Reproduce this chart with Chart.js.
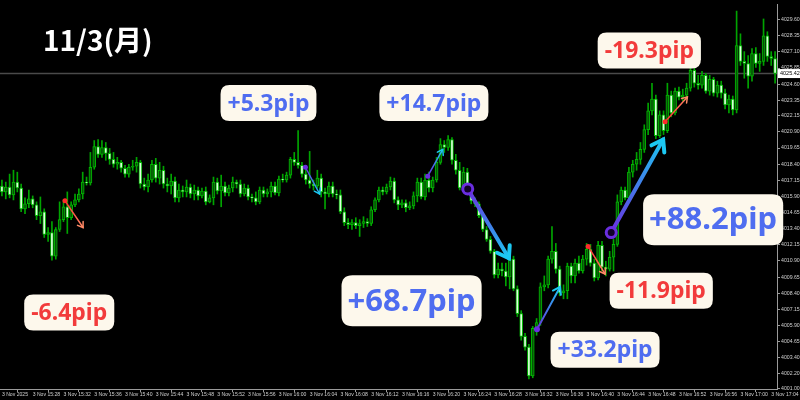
<!DOCTYPE html>
<html>
<head>
<meta charset="utf-8">
<script src="https://cdn.jsdelivr.net/npm/chart.js@4.4.0/dist/chart.umd.min.js"></script>
<style>
html,body{margin:0;padding:0;background:#000;}
#wrap{width:800px;height:400px;position:relative;}
</style>
</head>
<body>
<div id="wrap"><canvas id="chart"></canvas></div>
<script>
// 30 second candles, one time label every 8 bars
var tickLabels = ['3 Nov 2025','3 Nov 15:28','3 Nov 15:32','3 Nov 15:36','3 Nov 15:40','3 Nov 15:44','3 Nov 15:48',
  '3 Nov 15:52','3 Nov 15:56','3 Nov 16:00','3 Nov 16:04','3 Nov 16:08','3 Nov 16:12','3 Nov 16:16','3 Nov 16:20',
  '3 Nov 16:24','3 Nov 16:28','3 Nov 16:32','3 Nov 16:36','3 Nov 16:40','3 Nov 16:44','3 Nov 16:48','3 Nov 16:52',
  '3 Nov 16:56','3 Nov 17:00','3 Nov 17:04'];
var barsPerLabel = 8;

var priceTicks = [4001.00, 4002.20, 4003.40, 4004.65, 4005.90, 4007.15, 4008.40, 4009.65, 4010.90, 4012.15,
  4013.40, 4014.65, 4015.90, 4017.15, 4018.40, 4019.65, 4020.90, 4022.15, 4023.35, 4024.60, 4025.85,
  4027.10, 4028.35, 4029.60];
var currentPrice = 4025.42;

var open = [
  4016.71,4016.25,4016.63,4016.02,4017.01,4016.55,4014.94,4015.33,4015.71,4015.25,
  4014.41,4014.71,4012.95,4013.10,4011.27,4013.34,4014.10,4015.10,4014.25,4015.25,
  4015.63,4016.09,4017.01,4016.94,4018.16,4019.77,4019.16,4019.69,4019.23,4018.77,
  4018.39,4018.54,4018.08,4017.63,4018.16,4018.24,4018.54,4016.86,4016.63,4017.17,
  4018.39,4017.32,4017.93,4016.86,4016.71,4017.09,4015.79,4016.40,4016.25,4016.63,
  4016.09,4016.40,4015.94,4016.32,4015.48,4015.79,4017.01,4016.32,4016.71,4016.17,
  4016.55,4017.01,4016.86,4016.09,4016.55,4015.86,4015.79,4015.48,4016.40,4016.09,
  4016.25,4016.71,4016.17,4017.24,4017.17,4017.55,4018.77,4018.54,4018.31,4017.63,
  4017.17,4016.86,4016.71,4017.32,4016.25,4016.09,4016.71,4016.09,4016.02,4014.71,
  4013.87,4013.72,4013.87,4013.64,4013.80,4013.95,4013.80,4014.87,4015.63,4016.40,
  4016.25,4016.63,4017.09,4015.63,4015.25,4015.40,4015.02,4015.17,4015.94,4017.01,
  4015.86,4017.17,4016.55,4017.17,4018.54,4019.92,4019.69,4020.31,4018.70,4017.93,
  4016.55,4017.78,4016.48,4015.56,4015.33,4014.41,4013.34,4012.57,4011.65,4009.81,
  4010.27,4010.12,4009.66,4011.04,4008.74,4006.82,4005.06,4004.22,4002.00,4005.68,
  4006.13,4008.89,4009.05,4011.04,4011.65,4010.27,4008.43,4008.59,4010.50,4009.74,
  4010.73,4010.12,4011.04,4011.80,4010.73,4009.58,4012.11,4010.42,4010.27,4011.19,
  4012.19,4015.48,4016.40,4015.79,4017.78,4018.39,4018.77,4019.54,4021.07,4022.53,
  4023.45,4020.61,4022.22,4020.99,4023.75,4022.37,4024.06,4023.60,4023.75,4024.29,
  4025.67,4024.67,4024.52,4025.29,4024.06,4024.98,4023.91,4024.52,4023.91,4022.99,
  4023.45,4022.60,4027.58,4026.36,4026.20,4025.21,4026.97,4026.20,4026.36,4028.35,
  4026.74,4026.59];
var high = [
  4017.16,4017.01,4017.63,4017.93,4017.78,4016.86,4015.79,4016.40,4015.94,4015.48,
  4015.86,4014.94,4013.49,4013.95,4013.49,4015.48,4015.63,4016.25,4015.48,4016.09,
  4016.48,4017.78,4017.40,4019.31,4020.23,4020.31,4020.23,4020.08,4019.62,4019.31,
  4018.93,4018.70,4018.31,4018.39,4018.70,4018.93,4018.70,4017.32,4017.63,4018.70,
  4018.85,4018.54,4018.24,4017.32,4017.63,4017.40,4016.86,4016.71,4017.17,4016.86,
  4016.78,4016.63,4016.55,4016.63,4016.02,4017.40,4017.32,4017.55,4017.01,4016.78,
  4017.40,4017.17,4017.17,4016.86,4016.78,4016.09,4016.25,4016.63,4016.63,4016.48,
  4017.01,4017.01,4017.47,4017.63,4017.78,4018.93,4019.31,4021.00,4018.54,4018.16,
  4019.39,4017.17,4017.93,4017.63,4016.55,4017.01,4017.01,4016.40,4016.40,4015.02,
  4014.18,4014.10,4014.25,4014.10,4014.33,4014.18,4015.10,4015.79,4016.63,4016.63,
  4016.86,4017.40,4017.32,4015.86,4015.63,4015.63,4015.48,4016.25,4017.32,4017.32,
  4017.63,4017.78,4017.40,4018.93,4020.38,4020.23,4020.61,4020.46,4019.16,4018.54,
  4018.16,4018.08,4016.63,4015.79,4015.48,4014.56,4013.57,4012.80,4011.80,4010.73,
  4010.73,4010.73,4011.27,4011.27,4008.97,4007.05,4005.29,4004.45,4005.83,4006.44,
  4009.20,4009.74,4011.27,4013.57,4012.26,4010.50,4009.05,4010.73,4010.73,4011.04,
  4011.27,4011.34,4012.26,4012.19,4011.04,4012.42,4012.42,4010.88,4011.65,4012.57,
  4016.02,4016.63,4016.63,4018.16,4018.70,4019.31,4020.08,4021.45,4023.14,4024.67,
  4023.75,4022.53,4022.53,4024.67,4024.06,4024.29,4024.37,4024.21,4024.67,4025.90,
  4025.90,4025.29,4025.59,4025.44,4025.29,4025.13,4024.83,4024.83,4024.21,4023.75,
  4023.68,4030.26,4028.50,4027.12,4026.82,4027.35,4027.43,4026.97,4029.65,4028.66,
  4027.12,4027.12];
var low = [
  4015.94,4015.71,4015.79,4015.63,4016.25,4014.71,4014.56,4015.02,4015.02,4014.10,
  4013.80,4012.72,4012.42,4010.96,4011.04,4013.18,4013.95,4013.03,4014.10,4015.10,
  4015.48,4015.71,4016.78,4016.78,4018.01,4018.93,4018.93,4018.70,4018.39,4018.16,
  4018.01,4017.78,4017.40,4017.40,4017.93,4017.78,4016.55,4016.40,4016.25,4017.01,
  4017.01,4016.86,4016.55,4016.25,4016.09,4015.48,4015.48,4015.86,4015.86,4015.79,
  4015.63,4015.63,4015.79,4015.25,4015.40,4015.25,4016.09,4015.10,4015.94,4015.94,
  4016.25,4016.55,4015.86,4015.94,4015.63,4015.48,4015.25,4015.33,4015.86,4015.86,
  4015.86,4016.02,4015.94,4017.01,4017.01,4017.32,4018.31,4018.08,4017.40,4016.86,
  4016.55,4016.40,4016.55,4015.86,4014.94,4015.86,4015.86,4015.71,4014.56,4013.64,
  4013.41,4013.34,4013.41,4012.80,4013.49,4013.57,4013.64,4014.71,4015.48,4016.02,
  4016.09,4016.40,4015.40,4014.87,4015.02,4014.71,4014.87,4014.94,4015.48,4015.71,
  4015.63,4016.25,4016.25,4017.01,4018.39,4019.31,4019.46,4018.39,4017.63,4016.40,
  4016.40,4016.25,4015.33,4015.10,4014.25,4013.18,4012.42,4011.50,4009.58,4009.58,
  4009.74,4008.97,4008.74,4008.59,4006.59,4004.76,4003.99,4001.77,4001.85,4005.14,
  4005.91,4008.59,4008.82,4010.73,4009.96,4008.20,4007.97,4007.97,4009.20,4009.20,
  4009.96,4009.96,4010.58,4010.50,4009.35,4009.43,4010.12,4009.74,4010.12,4010.12,
  4012.03,4015.25,4015.63,4015.63,4017.40,4017.93,4018.39,4019.31,4020.69,4022.22,
  4020.38,4020.46,4020.69,4020.84,4022.07,4022.22,4023.37,4023.29,4023.45,4024.06,
  4024.37,4024.21,4024.29,4023.91,4023.75,4023.68,4023.60,4023.52,4022.68,4022.37,
  4022.22,4022.37,4026.05,4025.06,4024.29,4024.83,4025.90,4025.59,4026.05,4026.36,
  4026.05,4024.67];
var close = [
  4016.25,4016.63,4016.02,4017.01,4016.55,4014.94,4015.33,4015.71,4015.25,4014.41,
  4014.71,4012.95,4013.10,4011.27,4013.34,4014.10,4015.10,4014.25,4015.25,4015.63,
  4016.09,4017.01,4016.94,4018.16,4019.77,4019.16,4019.69,4019.23,4018.77,4018.39,
  4018.54,4018.08,4017.63,4018.16,4018.24,4018.54,4016.86,4016.63,4017.17,4018.39,
  4017.32,4017.93,4016.86,4016.71,4017.09,4015.79,4016.40,4016.25,4016.63,4016.09,
  4016.40,4015.94,4016.32,4015.48,4015.79,4017.01,4016.32,4016.71,4016.17,4016.55,
  4017.01,4016.86,4016.09,4016.55,4015.86,4015.79,4015.48,4016.40,4016.09,4016.25,
  4016.71,4016.17,4017.24,4017.17,4017.55,4018.77,4018.54,4018.31,4017.63,4017.17,
  4016.86,4016.71,4017.32,4016.25,4016.09,4016.71,4016.09,4016.02,4014.71,4013.87,
  4013.72,4013.87,4013.64,4013.80,4013.95,4013.80,4014.87,4015.63,4016.40,4016.25,
  4016.63,4017.09,4015.63,4015.25,4015.40,4015.02,4015.17,4015.94,4017.01,4015.86,
  4017.17,4016.55,4017.17,4018.54,4019.92,4019.69,4020.31,4018.70,4017.93,4016.55,
  4017.78,4016.48,4015.56,4015.33,4014.41,4013.34,4012.57,4011.65,4009.81,4010.27,
  4010.12,4009.66,4011.04,4008.74,4006.82,4005.06,4004.22,4002.00,4005.68,4006.13,
  4008.89,4009.05,4011.04,4011.65,4010.27,4008.43,4008.59,4010.50,4009.74,4010.73,
  4010.12,4011.04,4011.80,4010.73,4009.58,4012.11,4010.42,4010.27,4011.19,4012.19,
  4015.48,4016.40,4015.79,4017.78,4018.39,4018.77,4019.54,4021.07,4022.53,4023.45,
  4020.61,4022.22,4020.99,4023.75,4022.37,4024.06,4023.60,4023.75,4024.29,4025.67,
  4024.67,4024.52,4025.29,4024.06,4024.98,4023.91,4024.52,4023.91,4022.99,4023.45,
  4022.60,4027.58,4026.36,4026.20,4025.21,4026.97,4026.20,4026.36,4028.35,4026.74,
  4026.59,4025.44];

// annotation arrows: bar index / price of start and tip
var arrowStartIdx   = [16.4, 78.9, 110.7, 121.1, 139.1, 152.4, 158.4, 172.4];
var arrowStartPrice = [4015.56, 4018.16, 4017.47, 4016.48, 4005.60, 4012.03, 4013.10, 4021.68];
var arrowEndIdx     = [21.1, 82.6, 114.6, 131.8, 145.1, 156.8, 171.9, 178.2];
var arrowEndPrice   = [4013.49, 4016.09, 4019.54, 4011.11, 4008.89, 4009.89, 4020.31, 4023.60];
var arrowSign       = ['-', '+', '+', '+', '+', '-', '+', '-'];
var arrowSize       = ['s', 's', 's', 'b', 'm', 's', 'b', 's'];

// pip labels, centred on bar index / price
var labelText  = ['-6.4pip', '+5.3pip', '+14.7pip', '+68.7pip', '+33.2pip', '-11.9pip', '+88.2pip', '-19.3pip'];
var labelIdx   = [17.5, 69.3, 112.3, 106.5, 156.8, 171.4, 184.9, 168.3];
var labelPrice = [4006.90, 4023.14, 4023.14, 4007.82, 4004.03, 4008.59, 4014.10, 4027.20];
var labelBig   = [false, false, false, true, false, false, true, false];

var titleText = '11/3(月)';

var categories = open.map(function(o, i) {
  return i % barsPerLabel === 0 ? tickLabels[i / barsPerLabel] : '';
});
var wickData = low.map(function(l, i) { return [l, high[i]]; });
var bodyData = open.map(function(o, i) {
  var a = Math.min(o, close[i]), b = Math.max(o, close[i]);
  if (b - a < 0.06) { a -= 0.03; b += 0.03; }
  return [a, b];
});
var bodyColors = open.map(function(o, i) { return close[i] >= o ? '#075207' : '#dcffdc'; });

var styleSize = {
  s: {w: 1.5, head: 6, dot: 2.5, ring: false},
  m: {w: 2, head: 8, dot: 3, ring: false},
  b: {w: 4, head: 13, dot: 5, ring: true}
};

function roundRect(ctx, x, y, w, h, r) {
  ctx.beginPath();
  ctx.moveTo(x + r, y);
  ctx.lineTo(x + w - r, y);
  ctx.quadraticCurveTo(x + w, y, x + w, y + r);
  ctx.lineTo(x + w, y + h - r);
  ctx.quadraticCurveTo(x + w, y + h, x + w - r, y + h);
  ctx.lineTo(x + r, y + h);
  ctx.quadraticCurveTo(x, y + h, x, y + h - r);
  ctx.lineTo(x, y + r);
  ctx.quadraticCurveTo(x, y, x + r, y);
  ctx.closePath();
}

var overlay = {
  id: 'overlay',
  beforeDatasetsDraw: function(chart) {
    var ctx = chart.ctx, area = chart.chartArea;
    var y = chart.scales.y.getPixelForValue(currentPrice);
    ctx.save();
    ctx.strokeStyle = '#4a4a4a';
    ctx.lineWidth = 1.5;
    ctx.beginPath();
    ctx.moveTo(area.left, y);
    ctx.lineTo(area.right, y);
    ctx.stroke();
    ctx.restore();
  },
  afterDraw: function(chart) {
    var ctx = chart.ctx, xs = chart.scales.x, ys = chart.scales.y, area = chart.chartArea;
    ctx.save();

    // current price tag
    var py = ys.getPixelForValue(currentPrice);
    ctx.fillStyle = '#ffffff';
    ctx.fillRect(area.right + 1, py - 4.5, 800 - area.right, 9);
    ctx.fillStyle = '#000';
    ctx.font = '5.5px "Liberation Sans"';
    ctx.textBaseline = 'middle';
    ctx.textAlign = 'left';
    ctx.fillText(currentPrice.toFixed(2), area.right + 3, py);

    // title
    ctx.fillStyle = '#ffffff';
    ctx.font = 'bold 28px "Noto Sans CJK JP"';
    ctx.fillText(titleText, 43, 40);

    // arrows
    for (var i = 0; i < arrowStartIdx.length; i++) {
      var st = styleSize[arrowSize[i]];
      var x1 = xs.getPixelForValue(arrowStartIdx[i]), y1 = ys.getPixelForValue(arrowStartPrice[i]);
      var x2 = xs.getPixelForValue(arrowEndIdx[i]), y2 = ys.getPixelForValue(arrowEndPrice[i]);
      var c1 = arrowSign[i] === '+' ? '#6a2ee0' : '#ff2b2b';
      var c2 = arrowSign[i] === '+' ? '#1cc8f2' : '#ff8a66';
      var g = ctx.createLinearGradient(x1, y1, x2, y2);
      g.addColorStop(0, c1);
      g.addColorStop(1, c2);
      ctx.strokeStyle = g;
      ctx.lineWidth = st.w;
      ctx.lineCap = 'round';
      ctx.beginPath();
      ctx.moveTo(x1, y1);
      ctx.lineTo(x2, y2);
      ctx.stroke();
      var ang = Math.atan2(y2 - y1, x2 - x1);
      ctx.strokeStyle = c2;
      ctx.lineJoin = 'miter';
      ctx.beginPath();
      ctx.moveTo(x2 - st.head * Math.cos(ang - 0.6), y2 - st.head * Math.sin(ang - 0.6));
      ctx.lineTo(x2, y2);
      ctx.lineTo(x2 - st.head * Math.cos(ang + 0.6), y2 - st.head * Math.sin(ang + 0.6));
      ctx.stroke();
      if (st.ring) {
        ctx.beginPath();
        ctx.arc(x1, y1, st.dot, 0, Math.PI * 2);
        ctx.fillStyle = '#12002a';
        ctx.fill();
        ctx.lineWidth = 3;
        ctx.strokeStyle = c1;
        ctx.stroke();
      } else {
        ctx.beginPath();
        ctx.arc(x1, y1, st.dot, 0, Math.PI * 2);
        ctx.fillStyle = c1;
        ctx.fill();
      }
    }

    // pip labels
    ctx.textAlign = 'center';
    ctx.textBaseline = 'middle';
    for (var k = 0; k < labelText.length; k++) {
      var big = labelBig[k];
      var fs = big ? 31 : 23;
      ctx.font = 'bold ' + fs + 'px "Noto Sans"';
      var tw = ctx.measureText(labelText[k]).width;
      var bw = tw + (big ? 12 : 14), bh = big ? 51 : 36;
      var cx = xs.getPixelForValue(labelIdx[k]), cy = ys.getPixelForValue(labelPrice[k]);
      ctx.fillStyle = '#fdf8ec';
      roundRect(ctx, cx - bw / 2, cy - bh / 2, bw, bh, big ? 11 : 9);
      ctx.fill();
      ctx.fillStyle = labelText[k].charAt(0) === '+' ? '#4f6df0' : '#f23b3b';
      ctx.fillText(labelText[k], cx, cy + 1);
    }
    ctx.restore();
  }
};

Chart.defaults.font.family = '"Liberation Sans"';

new Chart(document.getElementById('chart'), {
  type: 'bar',
  data: {
    labels: categories,
    datasets: [
      {
        label: 'wick',
        data: wickData,
        backgroundColor: '#00a400',
        barThickness: 1,
        grouped: false,
        order: 2
      },
      {
        label: 'body',
        data: bodyData,
        backgroundColor: bodyColors,
        borderColor: '#00b800',
        borderWidth: 1,
        borderSkipped: false,
        barThickness: 3,
        grouped: false,
        order: 1
      }
    ]
  },
  options: {
    responsive: true,
    maintainAspectRatio: false,
    animation: false,
    layout: {padding: 0},
    plugins: {legend: {display: false}, tooltip: {enabled: false}},
    scales: {
      x: {
        offset: true,
        grid: {display: true, drawOnChartArea: false, drawTicks: true, tickLength: 3, color: '#9a9a9a'},
        border: {display: true, color: '#9a9a9a'},
        afterBuildTicks: function(axis) {
          axis.ticks = axis.ticks.filter(function(t) { return t.value % barsPerLabel === 0; });
        },
        afterFit: function(axis) { axis.height = 11; },
        ticks: {
          autoSkip: false,
          maxRotation: 0,
          minRotation: 0,
          align: 'start',
          padding: 0,
          color: '#d0d0d0',
          font: {size: 5.1},
          callback: function(v) { return this.getLabelForValue(v); }
        }
      },
      y: {
        position: 'right',
        min: 4000.98,
        max: 4030.80,
        grid: {display: true, drawOnChartArea: false, drawTicks: true, tickLength: 3, color: '#9a9a9a'},
        border: {display: true, color: '#9a9a9a'},
        afterBuildTicks: function(axis) {
          axis.ticks = priceTicks.map(function(v) { return {value: v}; });
        },
        afterFit: function(axis) { axis.width = 23; },
        ticks: {
          padding: 1,
          color: '#d0d0d0',
          font: {size: 5.2},
          callback: function(v) { return Number(v).toFixed(2); }
        }
      }
    }
  },
  plugins: [overlay]
});
</script>
</body>
</html>
